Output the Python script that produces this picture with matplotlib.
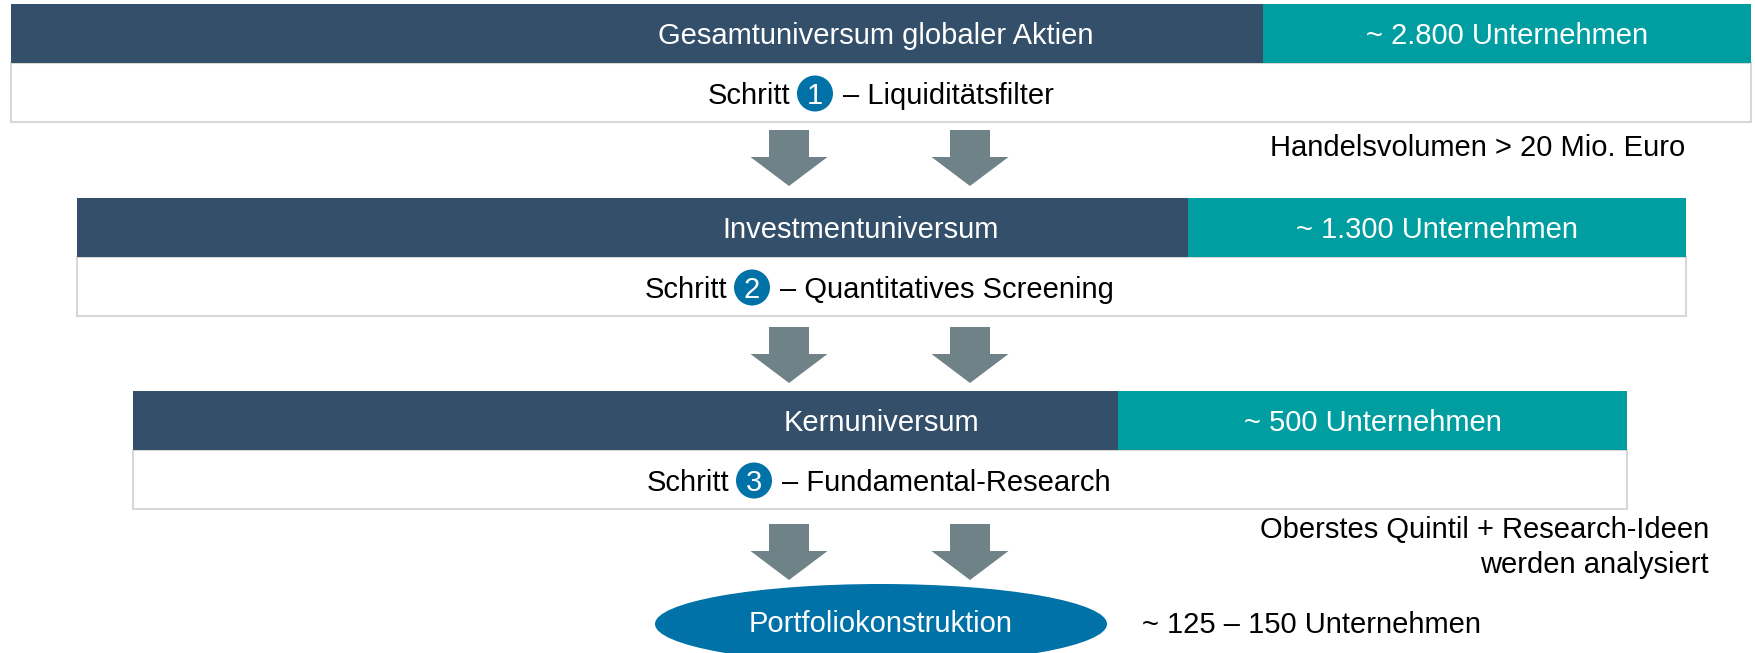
import matplotlib
matplotlib.use("Agg")
import matplotlib.pyplot as plt
from matplotlib import font_manager
from matplotlib.patches import Rectangle, Circle, Ellipse, FancyArrow

# ---------------- data ----------------
stages = ["Gesamtuniversum globaler Aktien", "Investmentuniversum", "Kernuniversum"]
counts = ["~ 2.800 Unternehmen", "~ 1.300 Unternehmen", "~ 500 Unternehmen"]
step_nums = ["1", "2", "3"]
step_names = ["Liquiditätsfilter", "Quantitatives Screening", "Fundamental-Research"]
step_notes = ["Handelsvolumen > 20 Mio. Euro", None,
              "Oberstes Quintil + Research-Ideen\nwerden analysiert"]
final_stage = "Portfoliokonstruktion"
final_count = "~ 125 – 150 Unternehmen"

# ---------------- layout (pixels) ----------------
W, H = 1755, 653
box_left = [11, 77, 133]
box_right = [1751, 1686, 1627]
split_x = [1263, 1188, 1118]
box_top = [4, 198, 391]
head_h = 58.5
body_h = 59
title_cx = [876, 861, 881]
circle_cx = [815, 752, 754]
arrow_top = [130, 327, 524]
arrow_x = [789, 970]

NAVY = "#344F6A"
TEAL = "#009EA1"
GREY = "#6E8287"
BLUE = "#0072A8"
BORDER = "#D8D8D2"

names = {f.name for f in font_manager.fontManager.ttflist}
if "Liberation Sans Narrow" in names:
    NARROW = ["Liberation Sans Narrow", "DejaVu Sans"]
    nsize = 25
else:
    NARROW = ["Liberation Sans", "DejaVu Sans"]
    nsize = 21
REG = ["Liberation Sans", "DejaVu Sans"]
RSIZE = 21

fig = plt.figure(figsize=(W / 100, H / 100), dpi=100)
ax = fig.add_axes([0, 0, 1, 1])
ax.set_xlim(0, W)
ax.set_ylim(H, 0)
ax.axis("off")


def cap_base(cy, size):
    # baseline y so that capitals are vertically centred on cy
    return cy + 0.716 * size * 100 / 72 / 2


for i in range(3):
    x0, x1, xs, y0 = box_left[i], box_right[i], split_x[i], box_top[i]
    # white body with light border
    ax.add_patch(Rectangle((x0, y0 + head_h), x1 - x0, body_h, facecolor="white",
                           edgecolor=BORDER, linewidth=1.5, zorder=1))
    # header
    ax.add_patch(Rectangle((x0, y0), xs - x0, head_h, facecolor=NAVY,
                           edgecolor="none", zorder=2))
    ax.add_patch(Rectangle((xs, y0), x1 - xs, head_h, facecolor=TEAL,
                           edgecolor="none", zorder=2))
    hc = y0 + head_h / 2
    ax.text(title_cx[i], cap_base(hc, RSIZE), stages[i], color="white",
            fontsize=RSIZE, family=REG, ha="center", va="baseline", zorder=3)
    ax.text((xs + x1) / 2, cap_base(hc, nsize), counts[i], color="white",
            fontsize=nsize, family=NARROW, ha="center", va="baseline", zorder=3)
    # step line
    bc = y0 + head_h + body_h / 2 + 1.5
    cx = circle_cx[i]
    r = 18
    ax.add_patch(Circle((cx, bc), r, facecolor=BLUE, edgecolor="none", zorder=3))
    ax.text(cx, cap_base(bc, RSIZE), step_nums[i], color="white", fontsize=RSIZE,
            family=REG, ha="center", va="baseline", zorder=4)
    ax.text(cx - r - 7, cap_base(bc, RSIZE), "Schritt", color="black",
            fontsize=RSIZE, family=REG, ha="right", va="baseline", zorder=3)
    ax.text(cx + r + 10, cap_base(bc, RSIZE), "– " + step_names[i], color="black",
            fontsize=RSIZE, family=REG, ha="left", va="baseline", zorder=3)
    # arrows
    for ax_x in arrow_x:
        ax.add_patch(FancyArrow(ax_x, arrow_top[i], 0, 56, width=40, head_width=77,
                                head_length=29, length_includes_head=True,
                                facecolor=GREY, edgecolor="none", zorder=2))

# notes
ax.text(1685, cap_base(146, nsize), step_notes[0], color="black", fontsize=nsize,
        family=NARROW, ha="right", va="baseline")
note_lines = step_notes[2].split("\n")
ax.text(1709, cap_base(528, RSIZE), note_lines[0], color="black", fontsize=RSIZE,
        family=REG, ha="right", va="baseline")
ax.text(1709, cap_base(563, RSIZE), note_lines[1], color="black", fontsize=RSIZE,
        family=REG, ha="right", va="baseline")

# final ellipse
ax.add_patch(Ellipse((881, 624), 452, 80, facecolor=BLUE, edgecolor="none", zorder=2))
ax.text(881, cap_base(622, nsize), final_stage, color="white", fontsize=nsize,
        family=NARROW, ha="center", va="baseline", zorder=3)
ax.text(1142, cap_base(623, nsize), final_count, color="black", fontsize=nsize,
        family=NARROW, ha="left", va="baseline")

fig.savefig("out.png", dpi=100, facecolor="white")
